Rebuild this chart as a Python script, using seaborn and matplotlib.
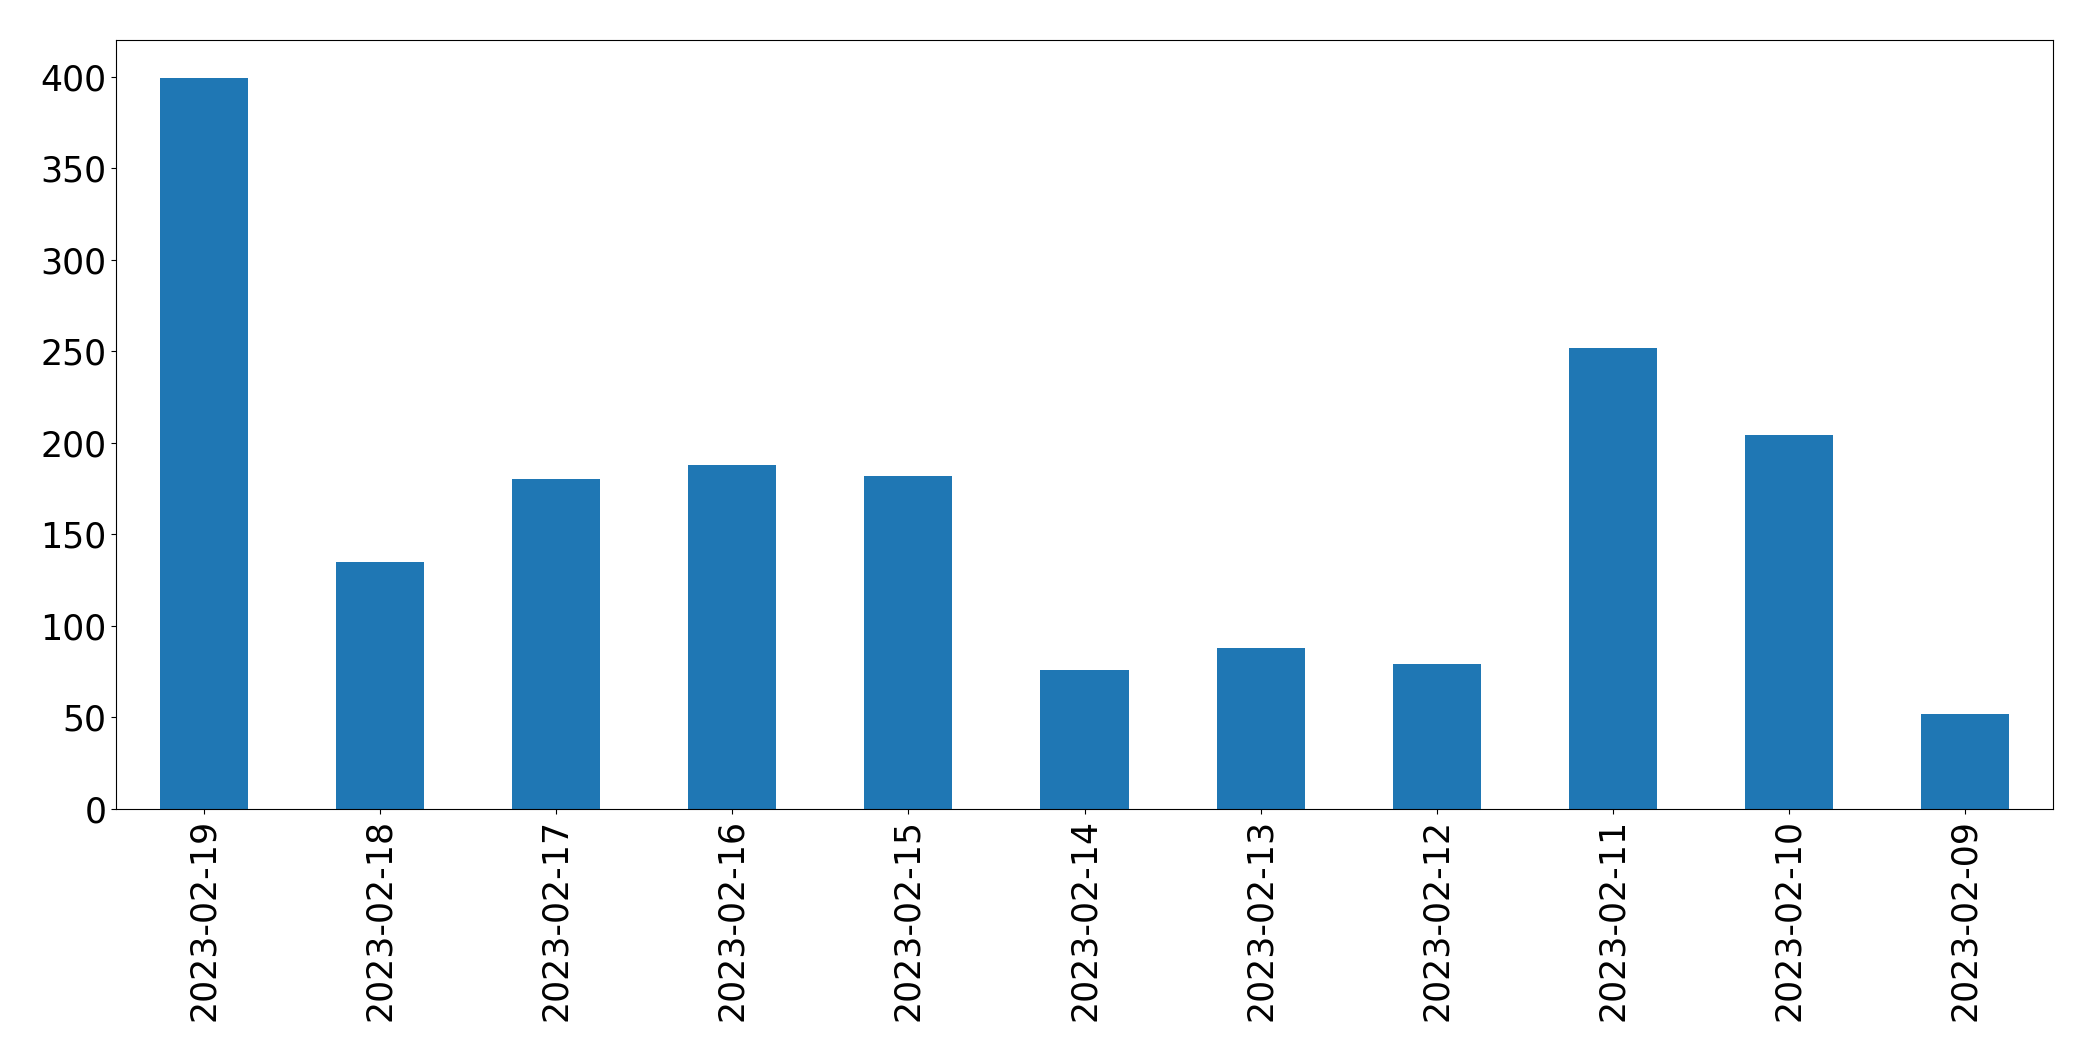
import pandas as pd
import matplotlib
matplotlib.use('Agg')
import matplotlib.pyplot as plt
import seaborn as sns

# data
datas = ['2023-02-19', '2023-02-18', '2023-02-17', '2023-02-16', '2023-02-15',
         '2023-02-14', '2023-02-13', '2023-02-12', '2023-02-11', '2023-02-10',
         '2023-02-09']
contagens = [399, 135, 180, 188, 182, 76, 88, 79, 252, 204, 52]

df = pd.DataFrame({'data': datas, 'contagem': contagens})

azul = '#1f77b4'

fig, ax = plt.subplots(figsize=(20.93, 10.61), dpi=100)

sns.barplot(x='data', y='contagem', data=df, order=datas, color=azul,
            saturation=1, width=0.5, edgecolor='none', linewidth=0, ax=ax)

ax.set_xlim(-0.5, len(datas) - 0.5)
ax.set_ylim(0, 420)
ax.set_xlabel('')
ax.set_ylabel('')
ax.tick_params(axis='both', labelsize=25)
ax.tick_params(axis='x', rotation=90)
for s in ax.spines.values():
    s.set_color('black')

plt.subplots_adjust(left=116/2093, right=2053/2093, top=1-40/1061, bottom=1-809/1061)
fig.savefig('out.png', dpi=100)
